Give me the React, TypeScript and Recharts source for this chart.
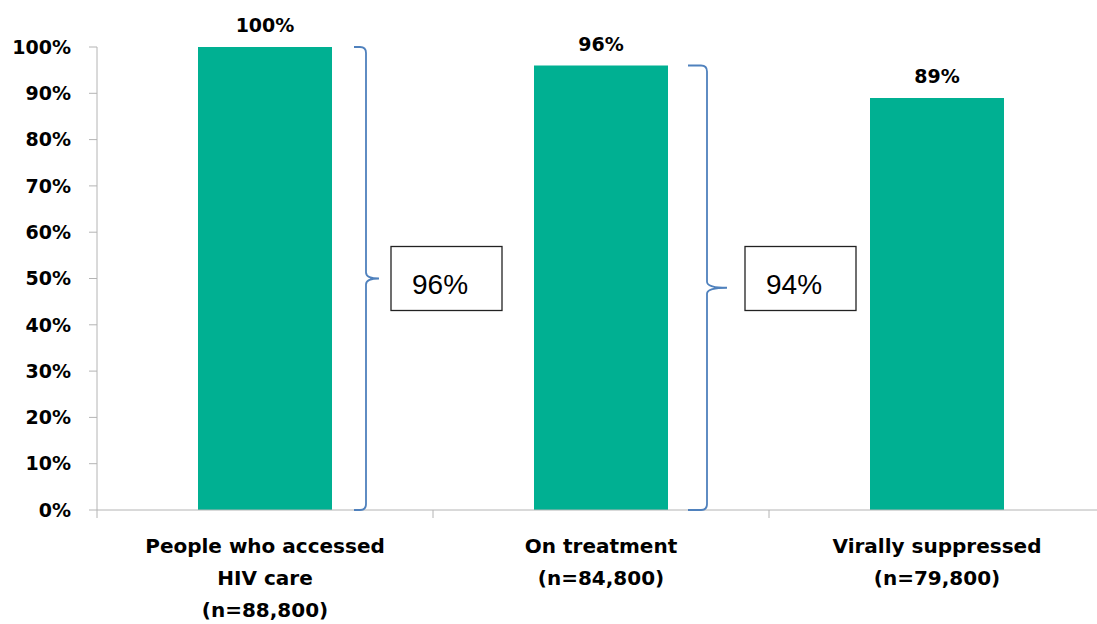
import React from 'react';
import { BarChart, Bar, XAxis, YAxis, LabelList } from 'recharts';

const stages = ['People who accessed HIV care', 'On treatment', 'Virally suppressed'];
const stageLines = [
  ['People who accessed', 'HIV care', '(n=88,800)'],
  ['On treatment', '(n=84,800)'],
  ['Virally suppressed', '(n=79,800)'],
];
const percentages = [100, 96, 89];
const stepLabels = ['96%', '94%'];
const yTicks = [0, 10, 20, 30, 40, 50, 60, 70, 80, 90, 100];

const data = stages.map((stage, i) => ({ stage, value: percentages[i] }));

const BAR_COLOR = '#00B092';
const AXIS_COLOR = '#b4b4b4';
const BRACE_COLOR = '#4f81bd';
const BOLD_FONT = '"DejaVu Sans", sans-serif';

// offsets from the bar's right edge for each brace + box
const braceLayout = [
  { hook: 22, stem: 34, tip: 47, box: 59 },
  { hook: 20, stem: 39, tip: 59, box: 77 },
];

const CategoryTick = (props: any) => {
  const { x, y, payload, index, visibleTicksCount } = props;
  const half = payload?.offset ?? 0;
  const lines = stageLines[index] || [];
  const isLast = index === (visibleTicksCount ?? stages.length) - 1;
  return (
    <g>
      <line x1={x - half} y1={y} x2={x - half} y2={y + 8} stroke={AXIS_COLOR} />
      {isLast && <line x1={x + half} y1={y} x2={x + half} y2={y + 8} stroke={AXIS_COLOR} />}
      {lines.map((line, i) => (
        <text
          key={i}
          x={x}
          y={y + 43 + i * 32}
          textAnchor="middle"
          fontFamily={BOLD_FONT}
          fontWeight="bold"
          fontSize={20}
          fill="#000"
        >
          {line}
        </text>
      ))}
    </g>
  );
};

const ValueLabel = (props: any) => {
  const { x, y, width, value } = props;
  return (
    <text
      x={x + width / 2}
      y={y - 15}
      textAnchor="middle"
      fontFamily={BOLD_FONT}
      fontWeight="bold"
      fontSize={19}
      fill="#000"
    >
      {`${value}%`}
    </text>
  );
};

const BraceLabel = (props: any) => {
  const { x, y, width, height, index, value } = props;
  if (index >= stepLabels.length) return null;
  const lay = braceLayout[index];
  const right = x + width;
  const top = y;
  const bottom = y + height;
  const mid = (top + bottom) / 2;
  const perUnit = height / value;
  const boxMid = bottom - 50 * perUnit;
  const x0 = right + lay.hook;
  const xv = right + lay.stem;
  const xt = right + lay.tip;
  const r = 6;
  const d = `M ${x0} ${top} L ${xv - r} ${top} Q ${xv} ${top} ${xv} ${top + r} L ${xv} ${mid - r} Q ${xv} ${mid} ${xt} ${mid} Q ${xv} ${mid} ${xv} ${mid + r} L ${xv} ${bottom - r} Q ${xv} ${bottom} ${xv - r} ${bottom} L ${x0} ${bottom}`;
  const bx = right + lay.box;
  return (
    <g>
      <path d={d} fill="none" stroke={BRACE_COLOR} strokeWidth={1.8} />
      <rect x={bx} y={boxMid - 32} width={111} height={64} fill="#fff" stroke="#222" strokeWidth={1.3} />
      <text x={bx + 21} y={boxMid + 15} fontFamily='"Liberation Sans", Arial, sans-serif' fontSize={28} fill="#000">
        {stepLabels[index]}
      </text>
    </g>
  );
};

export default function App() {
  return (
    <div style={{ position: 'absolute', left: 0, top: 0, width: 1097, height: 624, overflow: 'hidden', background: '#fff' }}>
      <BarChart width={1110} height={624} data={data} margin={{ top: 47, right: 5, left: 0, bottom: 0 }}>
        <XAxis
          dataKey="stage"
          height={114}
          interval={0}
          tickLine={false}
          tickSize={0}
          tickMargin={0}
          axisLine={{ stroke: AXIS_COLOR }}
          tick={<CategoryTick />}
        />
        <YAxis
          width={97}
          domain={[0, 100]}
          ticks={yTicks}
          interval={0}
          tickSize={8}
          tickMargin={18}
          tickFormatter={(v: number) => `${v}%`}
          axisLine={{ stroke: AXIS_COLOR }}
          tickLine={{ stroke: AXIS_COLOR }}
          tick={{ fontFamily: BOLD_FONT, fontWeight: 'bold', fontSize: 19, fill: '#000' }}
        />
        <Bar dataKey="value" fill={BAR_COLOR} barSize={134} isAnimationActive={false}>
          <LabelList dataKey="value" content={<ValueLabel />} />
          <LabelList dataKey="value" content={<BraceLabel />} />
        </Bar>
      </BarChart>
    </div>
  );
}
